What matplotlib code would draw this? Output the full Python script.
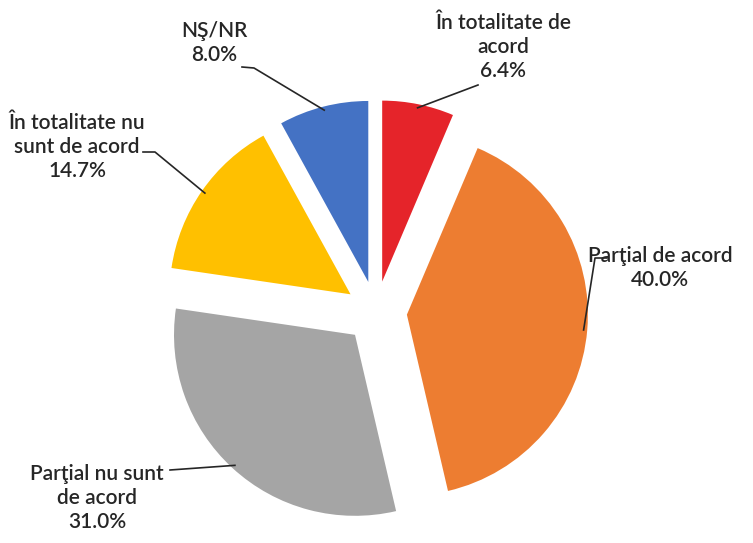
import numpy as np
import matplotlib
matplotlib.use("Agg")
import matplotlib.pyplot as plt

# ---------------------------------------------------------------
# Date
# ---------------------------------------------------------------
categorii = ["În totalitate de\nacord", "Parţial de acord", "Parţial nu sunt\nde acord",
             "În totalitate nu\nsunt de acord", "NŞ/NR"]
valori = [6.4, 40.0, 31.0, 14.7, 8.0]
culori = ["#E5242A", "#ED7D31", "#A5A5A5", "#FFC000", "#4472C4"]

# pozitii etichete (pixeli, y in jos) si puncte de pornire ale liniilor
W, H = 753, 543
poz_text = [(503, 47), (660, 268), (97, 498), (77, 147), (214, 43)]
linii_start = [[(478, 85)], [(607, 258), (595, 258)], [(170, 470)],
               [(143, 152), (155, 152)], [(242, 67), (254, 68)]]

fig = plt.figure(figsize=(W / 100, H / 100), dpi=100)
ax = fig.add_axes([0, 0, 1, 1])

centru = (376, H - 312)
raza = 181
# explode in matplotlib e in unitati de date (aici pixeli)
wedges, _ = ax.pie(valori, colors=culori, startangle=90, counterclock=False,
                   center=centru, radius=raza, explode=[31] * len(valori),
                   frame=True, wedgeprops=dict(linewidth=0))
ax.set_xlim(0, W)
ax.set_ylim(0, H)
ax.set_aspect("equal")
ax.axis("off")

font = dict(family=["Lato", "DejaVu Sans"], fontsize=15, color="#262626",
            fontweight="semibold")

for w, cat, val, (tx, ty), start in zip(wedges, categorii, valori, poz_text, linii_start):
    ax.text(tx, H - ty, f"{cat}\n{val:.1f}%", ha="center", va="center",
            linespacing=1.25, **font)
    mid = np.deg2rad((w.theta1 + w.theta2) / 2)
    cx, cy = w.center
    ex, ey = cx + 0.98 * w.r * np.cos(mid), cy + 0.98 * w.r * np.sin(mid)
    xs = [p[0] for p in start] + [ex]
    ys = [H - p[1] for p in start] + [ey]
    ax.plot(xs, ys, color="#262626", lw=1.2)

fig.savefig("out.png", dpi=100, facecolor="white")
